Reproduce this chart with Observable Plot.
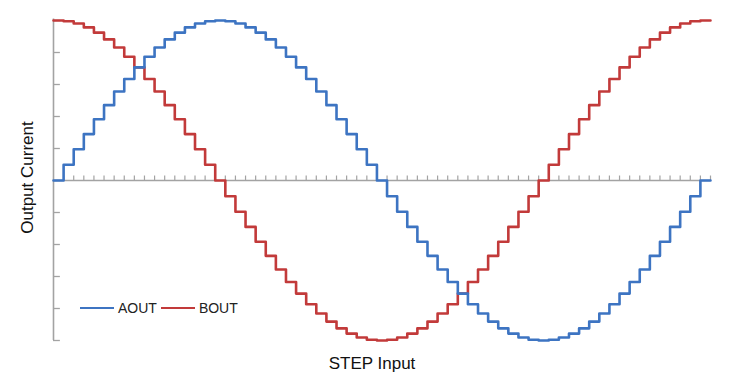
<!DOCTYPE html>
<html>
<head>
<meta charset="utf-8">
<script src="https://cdn.jsdelivr.net/npm/d3@7"></script>
<script src="https://cdn.jsdelivr.net/npm/@observablehq/plot@0.6"></script>
<style>
  html, body { margin: 0; padding: 0; background: #fff; }
  #wrap { position: relative; width: 731px; height: 386px; font-family: "Liberation Sans", Arial, sans-serif; }
  #legend { position: absolute; left: 80px; top: 299px; display: flex; align-items: center; font-size: 14px; color: #222; line-height: 18px; }
  #legend .sw { display: inline-block; width: 34px; height: 0; border-top: 2.5px solid; margin-right: 4px; }
  #legend .item { display: flex; align-items: center; margin-right: 4px; }
</style>
</head>
<body>
<div id="wrap"></div>
<script>
// Microstep current levels (65 steps per electrical cycle)
const aout = [
  0, 0.098, 0.195, 0.290, 0.383, 0.471, 0.556, 0.634, 0.707, 0.773, 0.831, 0.882, 0.924, 0.957, 0.981, 0.995,
  1, 0.995, 0.981, 0.957, 0.924, 0.882, 0.831, 0.773, 0.707, 0.634, 0.556, 0.471, 0.383, 0.290, 0.195, 0.098,
  0, -0.098, -0.195, -0.290, -0.383, -0.471, -0.556, -0.634, -0.707, -0.773, -0.831, -0.882, -0.924, -0.957, -0.981, -0.995,
  -1, -0.995, -0.981, -0.957, -0.924, -0.882, -0.831, -0.773, -0.707, -0.634, -0.556, -0.471, -0.383, -0.290, -0.195, -0.098,
  0
];
const bout = [
  1, 0.995, 0.981, 0.957, 0.924, 0.882, 0.831, 0.773, 0.707, 0.634, 0.556, 0.471, 0.383, 0.290, 0.195, 0.098,
  0, -0.098, -0.195, -0.290, -0.383, -0.471, -0.556, -0.634, -0.707, -0.773, -0.831, -0.882, -0.924, -0.957, -0.981, -0.995,
  -1, -0.995, -0.981, -0.957, -0.924, -0.882, -0.831, -0.773, -0.707, -0.634, -0.556, -0.471, -0.383, -0.290, -0.195, -0.098,
  0, 0.098, 0.195, 0.290, 0.383, 0.471, 0.556, 0.634, 0.707, 0.773, 0.831, 0.882, 0.924, 0.957, 0.981, 0.995,
  1
];
const seriesNames = ["AOUT", "BOUT"];
const seriesColors = ["#3d74c2", "#c23a3a"];
const xLabel = "STEP Input";
const yLabel = "Output Current";
const yTicks = [-1, -0.8, -0.6, -0.4, -0.2, 0, 0.2, 0.4, 0.6, 0.8, 1];
const xTicks = d3.range(1, 66);

const steps = d3.range(0, 66);
const rowsA = steps.map(i => ({step: i, v: aout[Math.min(i, aout.length - 1)]}));
const rowsB = steps.map(i => ({step: i, v: bout[Math.min(i, bout.length - 1)]}));

const axisColor = "#a3a3a3";
const font = "Liberation Sans, Arial, sans-serif";

const chart = Plot.plot({
  width: 731,
  height: 386,
  marginLeft: 53,
  marginRight: 21,
  marginTop: 20,
  marginBottom: 46,
  style: {fontFamily: font, background: "#fff"},
  x: {domain: [0, 65], axis: null},
  y: {domain: [-1, 1], axis: null},
  marks: [
    // y axis line and inward ticks
    Plot.ruleX([0], {y1: -1, y2: 1.01, stroke: axisColor, strokeWidth: 1.6}),
    Plot.ruleY(yTicks, {x1: 0, x2: 0.68, stroke: axisColor, strokeWidth: 1.3}),
    // zero line with step ticks
    Plot.ruleY([0], {x1: 0, x2: 65, stroke: axisColor, strokeWidth: 1.6}),
    Plot.ruleX(xTicks, {y1: 0, y2: 0.028, stroke: axisColor, strokeWidth: 1.2}),
    // series
    Plot.line(rowsB, {x: "step", y: "v", curve: "step-after", stroke: seriesColors[1], strokeWidth: 2.6}),
    Plot.line(rowsA, {x: "step", y: "v", curve: "step-after", stroke: seriesColors[0], strokeWidth: 2.6}),
    // axis titles
    Plot.text([xLabel], {frameAnchor: "bottom", textAnchor: "middle", dx: -10, dy: 23, lineAnchor: "middle", fontSize: 17, fill: "#111"}),
    Plot.text([yLabel], {frameAnchor: "left", textAnchor: "middle", dx: -26, dy: -3, rotate: -90, lineAnchor: "middle", fontSize: 17, fill: "#111"})
  ]
});

const wrap = document.getElementById("wrap");
wrap.appendChild(chart);

const legend = document.createElement("div");
legend.id = "legend";
seriesNames.forEach((name, i) => {
  const item = document.createElement("span");
  item.className = "item";
  const sw = document.createElement("span");
  sw.className = "sw";
  sw.style.borderTopColor = seriesColors[i];
  const lab = document.createElement("span");
  lab.textContent = name;
  item.appendChild(sw);
  item.appendChild(lab);
  legend.appendChild(item);
});
wrap.appendChild(legend);
</script>
</body>
</html>
